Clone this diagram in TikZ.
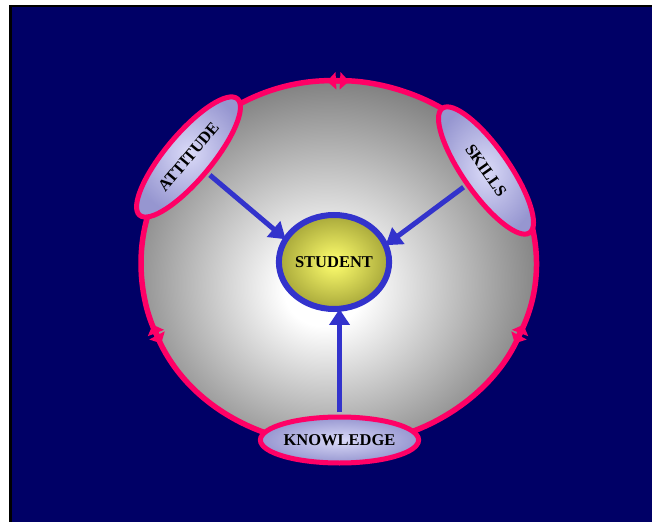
\documentclass[tikz,border=0pt]{standalone}
\usepackage{fontspec}
\setmainfont{Liberation Serif}
\usetikzlibrary{arrows.meta,shapes.geometric}
\definecolor{navy}{RGB}{0,0,102}
\definecolor{pinkc}{RGB}{255,0,102}
\definecolor{bluec}{RGB}{51,51,204}
\definecolor{lavin}{RGB}{218,218,248}
\definecolor{lavout}{RGB}{150,150,208}
\definecolor{yelin}{RGB}{255,255,110}
\definecolor{yelout}{RGB}{168,168,58}
\definecolor{sphout}{RGB}{125,125,125}
\pgfdeclareradialshading{sphere}{\pgfpoint{-2bp}{-4bp}}{color(0bp)=(white); color(5bp)=(white); color(28bp)=(sphout); color(60bp)=(sphout)}
\begin{document}
\begin{tikzpicture}[x=1pt,y=1pt,
  lbl/.style={font=\fontsize{16.5}{18}\selectfont\bfseries, text=black},
  oval/.style={ellipse, draw=pinkc, line width=5pt, inner sep=0pt,
    inner color=lavin, outer color=lavout, lbl,
    minimum width=152pt, minimum height=46pt},
  ring/.style={pinkc, line width=5.5pt,
    {Triangle[length=9pt,width=17pt]}-{Triangle[length=9pt,width=17pt]}},
  feed/.style={bluec, line width=5pt, shorten <=2.5pt, shorten >=-3pt,
    -{Triangle[length=16pt,width=20pt]}}]
\useasboundingbox (0,0) rectangle (652,522);
\fill[black] (9,0) rectangle (652,517);
\fill[navy] (11.5,0) rectangle (652,514.5);
\coordinate (sc) at (338,259);
\shade[shading=sphere] (sc) ellipse [x radius=197, y radius=182];
\draw[ring] ([shift={(86.8:197pt and 182pt)}]sc) arc[start angle=86.8, end angle=206.2, x radius=197, y radius=182];
\draw[ring] ([shift={(199.8:197pt and 182pt)}]sc) arc[start angle=199.8, end angle=340.2, x radius=197, y radius=182];
\draw[ring] ([shift={(-26.2:197pt and 182pt)}]sc) arc[start angle=-26.2, end angle=93.2, x radius=197, y radius=182];
\node[oval, rotate=50] (att) at (188.5,365) {ATTITUDE};
\node[oval, rotate=-55] (sk) at (486,351.5) {SKILLS};
\node[oval] (kn) at (339.5,82) {KNOWLEDGE};
\node[ellipse, draw=bluec, line width=6pt, inner color=yelin, outer color=yelout,
  minimum width=106pt, minimum height=94pt, inner sep=0pt, lbl] (stu) at (334,260) {STUDENT};
\draw[feed] (att) -- (stu.154);
\draw[feed] (sk) -- (stu.19);
\draw[feed] (kn.north) -- (kn.north |- stu.south);
\end{tikzpicture}
\end{document}
